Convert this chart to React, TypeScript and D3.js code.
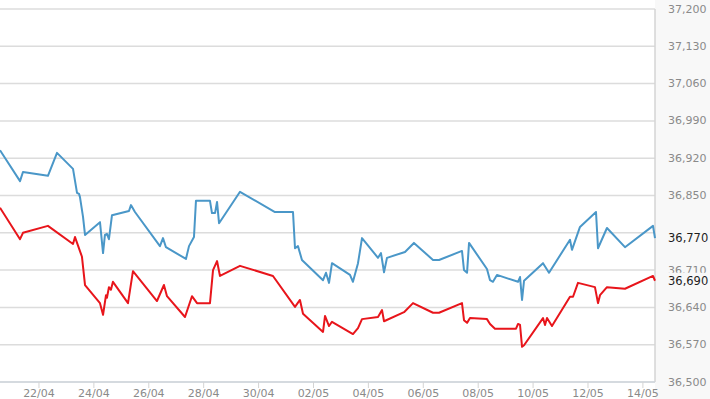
import React from "react";
import * as d3 from "d3";

const yTicks = [36500, 36570, 36640, 36710, 36780, 36850, 36920, 36990, 37060, 37130, 37200];
const xTickLabels = ["04-22", "04-24", "04-26", "04-28", "04-30", "05-02", "05-04", "05-06", "05-08", "05-10", "05-12", "05-14"];

const blueTimes = [
  "04-20 13:55", "04-21 07:25", "04-21 10:00", "04-22 07:50", "04-22 15:45", "04-23 05:45", "04-23 09:15", "04-23 11:00",
  "04-23 11:50", "04-23 14:30", "04-23 16:15", "04-24 05:20", "04-24 08:00", "04-24 09:40", "04-24 11:25", "04-24 13:10",
  "04-24 15:50", "04-25 06:40", "04-25 08:25", "04-25 11:55", "04-26 09:45", "04-26 12:25", "04-26 15:00", "04-27 08:30",
  "04-27 11:10", "04-27 15:30", "04-27 17:15", "04-28 05:30", "04-28 07:15", "04-28 09:55", "04-28 11:40", "04-28 13:25",
  "04-29 07:45", "04-30 14:20", "05-01 06:05", "05-01 07:50", "05-01 10:25", "05-01 13:55", "05-02 08:20", "05-02 10:55",
  "05-02 13:35", "05-02 16:10", "05-03 07:55", "05-03 10:30", "05-03 14:55", "05-03 18:25", "05-04 08:25", "05-04 11:00",
  "05-04 13:40", "05-04 16:15", "05-05 08:00", "05-05 15:50", "05-06 08:30", "05-06 13:45", "05-07 09:50", "05-07 11:35",
  "05-07 14:15", "05-07 16:00", "05-08 07:40", "05-08 10:20", "05-08 12:55", "05-08 16:25", "05-09 10:50", "05-09 12:35",
  "05-09 14:20", "05-09 16:05", "05-10 08:40", "05-10 13:55", "05-11 08:15", "05-11 10:00", "05-11 17:00", "05-12 07:00",
  "05-12 08:45", "05-12 16:35", "05-13 08:20", "05-14 08:50", "05-14 10:35",
];
const blueValues = [
  36935, 36877, 36894, 36887, 36930, 36900, 36855, 36853,
  36847, 36810, 36776, 36800, 36742, 36776, 36778, 36768,
  36813, 36821, 36832, 36819, 36755, 36770, 36753, 36731,
  36755, 36772, 36840, 36840, 36817, 36817, 36838, 36798,
  36857, 36819, 36819, 36751, 36755, 36729, 36691, 36705,
  36686, 36723, 36701, 36688, 36723, 36770, 36733, 36742,
  36706, 36733, 36744, 36761, 36729, 36729, 36746, 36710,
  36705, 36761, 36712, 36691, 36688, 36701, 36688, 36697,
  36654, 36690, 36723, 36705, 36767, 36748, 36791, 36819,
  36751, 36789, 36753, 36793, 36770,
];

const redTimes = [
  "04-20 13:55", "04-21 07:25", "04-21 10:00", "04-22 07:50", "04-23 05:45", "04-23 07:30", "04-23 13:35", "04-23 16:15",
  "04-24 05:20", "04-24 08:00", "04-24 10:35", "04-24 11:25", "04-24 13:10", "04-24 14:55", "04-24 16:40", "04-25 05:50",
  "04-25 10:10", "04-26 07:10", "04-26 13:15", "04-26 15:55", "04-27 07:40", "04-27 13:45", "04-27 18:10", "04-28 05:30",
  "04-28 08:10", "04-28 11:40", "04-28 14:15", "04-29 07:45", "04-30 12:35", "05-01 07:50", "05-01 12:10", "05-01 14:50",
  "05-02 08:20", "05-02 10:05", "05-02 13:35", "05-02 16:10", "05-03 10:30", "05-03 14:55", "05-03 18:25", "05-04 08:25",
  "05-04 11:55", "05-04 13:40", "05-05 07:10", "05-05 15:00", "05-06 08:30", "05-06 13:45", "05-07 09:50", "05-07 11:35",
  "05-07 14:15", "05-07 16:50", "05-08 07:40", "05-08 10:20", "05-08 14:40", "05-09 09:05", "05-09 10:50", "05-09 12:35",
  "05-09 14:20", "05-09 16:05", "05-10 08:40", "05-10 10:25", "05-10 12:10", "05-10 16:30", "05-11 08:15", "05-11 10:55",
  "05-11 15:15", "05-12 06:05", "05-12 08:45", "05-12 10:30", "05-12 16:35", "05-13 08:20", "05-14 08:50", "05-14 10:35",
];
const redValues = [
  36827, 36768, 36780, 36793, 36759, 36772, 36735, 36682,
  36648, 36626, 36663, 36658, 36678, 36673, 36688, 36648,
  36708, 36652, 36682, 36661, 36622, 36661, 36648, 36648,
  36710, 36727, 36699, 36718, 36699, 36641, 36654, 36628,
  36594, 36624, 36605, 36613, 36590, 36601, 36618, 36622,
  36635, 36614, 36631, 36648, 36630, 36630, 36648, 36616,
  36611, 36620, 36618, 36609, 36600, 36600, 36609, 36607,
  36566, 36569, 36620, 36607, 36620, 36605, 36660, 36660,
  36686, 36678, 36648, 36663, 36678, 36675, 36699, 36690,
];

const YEAR = 2024;
const parse = (s: string) => {
  const [md, hm] = s.split(" ");
  const [m, d] = md.split("-").map(Number);
  const [h, mi] = (hm || "00:00").split(":").map(Number);
  return new Date(YEAR, m - 1, d, h, mi);
};

const W = 710;
const H = 399;
const plotRight = 655;
const plotTop = 9;
const plotBottom = 382;
const fmt = d3.format(",");

export default function App() {
  const x = d3
    .scaleTime()
    .domain([parse(blueTimes[0]), parse(blueTimes[blueTimes.length - 1])])
    .range([0, plotRight]);
  const y = d3.scaleLinear().domain([36500, 37200]).range([plotBottom, plotTop]);

  const blue = blueTimes.map((t, i) => ({ t: parse(t), v: blueValues[i] }));
  const red = redTimes.map((t, i) => ({ t: parse(t), v: redValues[i] }));
  const line = d3
    .line<{ t: Date; v: number }>()
    .x((d) => x(d.t))
    .y((d) => y(d.v));

  const lastBlue = blueValues[blueValues.length - 1];
  const lastRed = redValues[redValues.length - 1];
  const lastVals = [lastBlue, lastRed];
  const font = "Verdana, 'DejaVu Sans', sans-serif";
  // tick labels fully hidden behind a last-value box are not drawn
  const visibleTicks = yTicks.filter((t) => lastVals.every((v) => Math.abs(y(t) - y(v)) > 9));

  return (
    <svg
      width={W}
      height={H}
      style={{ position: "absolute", left: 0, top: 0, background: "#fff" }}
    >
      <rect x={plotRight} y={0} width={W - plotRight} height={H} fill="#f8f8f8" />
      {yTicks.map((t) => (
        <line key={t} x1={0} x2={plotRight} y1={y(t)} y2={y(t)} stroke="#dcdcdc" strokeWidth={1.5} />
      ))}
      <line x1={plotRight} x2={plotRight} y1={plotTop} y2={plotBottom} stroke="#d4d4d4" strokeWidth={1.5} />
      <line x1={0} x2={plotRight} y1={plotBottom} y2={plotBottom} stroke="#cfd6dc" strokeWidth={1.5} />
      {xTickLabels.map((l) => {
        const xx = x(parse(l + " 00:00"));
        const [m, d] = l.split("-");
        return (
          <g key={l}>
            <line x1={xx} x2={xx} y1={plotBottom} y2={plotBottom + 6} stroke="#d4d4d4" />
            <text
              x={xx}
              y={393}
              textAnchor="middle"
              dominantBaseline="central"
              fontFamily={font}
              fontSize={11}
              fill="#8a8a8a"
            >
              {d + "/" + m}
            </text>
          </g>
        );
      })}
      {visibleTicks.map((t) => (
        <text
          key={"l" + t}
          x={668}
          y={y(t)}
          dominantBaseline="central"
          fontFamily={font}
          fontSize={11}
          fill="#8a8a8a"
        >
          {fmt(t)}
        </text>
      ))}
      <path d={line(blue) || ""} fill="none" stroke="#4a97c8" strokeWidth={2} strokeLinejoin="round" />
      <path d={line(red) || ""} fill="none" stroke="#e8151b" strokeWidth={2} strokeLinejoin="round" />
      {lastVals.map((v) => (
        <g key={"last" + v}>
          <rect x={plotRight + 2} y={y(v) - 8} width={W - plotRight - 2} height={16} fill="#f8f8f8" />
          <text
            x={668}
            y={y(v)}
            dominantBaseline="central"
            fontFamily={font}
            fontSize={11.5}
            fill="#1e1e1e"
          >
            {fmt(v)}
          </text>
        </g>
      ))}
    </svg>
  );
}
